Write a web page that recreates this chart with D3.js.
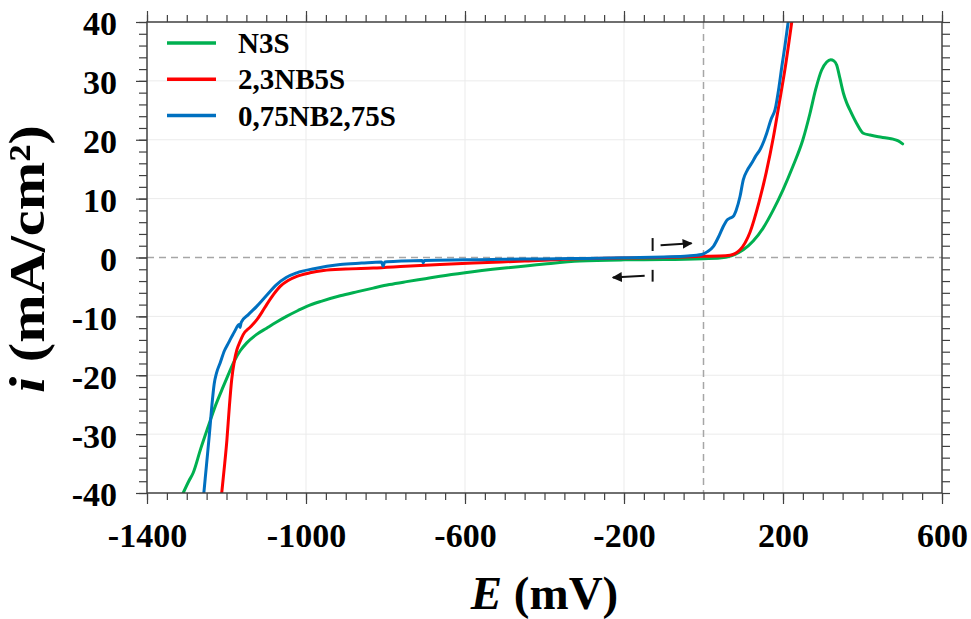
<!DOCTYPE html>
<html><head><meta charset="utf-8">
<script src="https://cdn.jsdelivr.net/npm/d3@7"></script>
<style>body{margin:0;background:#fff;} svg{display:block;font-family:"Liberation Serif","Times New Roman",serif;}</style>
</head><body>
<svg id="c" width="971" height="619"></svg>
<script>
// ---- data ----
const seriesNames = ["N3S", "2,3NB5S", "0,75NB2,75S"];
const seriesColors = ["#00B050", "#FF0000", "#0070C0"];
const xTicks = [-1400, -1000, -600, -200, 200, 600];
const yTicks = [-40, -30, -20, -10, 0, 10, 20, 30, 40];

const n3sE = [-1309,-1295,-1284,-1265,-1246,-1228,-1208,-1193,-1179,-1165,-1149,-1125,-1099,-1075,-1049,-1020,-998,-960,-914,-870,-831,-790,-747,-700,-663,-600,-500,-400,-311,-200,-100,0,41,70,100,125,150,175,200,225,250,268,282,297,310,320,328,335,343,352,360,368,385,402,419,440,461,477,490,501];
const n3sI = [-40,-38,-36.6,-32.5,-28.7,-25.2,-21.9,-19.5,-17.4,-15.8,-14.5,-13.1,-12.0,-11.0,-10.0,-9.0,-8.3,-7.4,-6.5,-5.8,-5.2,-4.6,-4.1,-3.6,-3.2,-2.6,-1.8,-1.1,-0.6,-0.4,-0.35,-0.2,-0.1,0.3,1.3,2.8,5.0,8.0,11.5,15.5,20.0,24.5,28.5,31.8,33.2,33.6,33.4,32.7,30.5,27.9,26.3,25.1,22.8,21.1,20.8,20.5,20.3,20.1,19.8,19.3];

const nb5E = [-1212,-1206,-1199,-1193,-1187,-1180,-1174,-1166,-1158,-1140,-1124,-1110,-1099,-1082,-1065,-1045,-1023,-990,-956,-900,-831,-750,-663,-579,-450,-311,-200,-100,0,40,67,92,117,140,158,176,190,205,222];
const nb5I = [-40,-36,-31,-25.5,-20.8,-17.5,-15.7,-14.3,-13.1,-11.8,-10.6,-9.2,-8.0,-6.3,-4.9,-3.9,-3.2,-2.6,-2.2,-1.95,-1.8,-1.5,-1.2,-0.95,-0.6,-0.2,-0.1,0,0.2,0.25,0.4,1.3,4.3,9.5,14.5,20.5,26,32,40];

const nb275E = [-1257,-1250,-1243,-1237,-1231,-1225,-1216,-1205,-1195,-1180,-1168,-1166,-1163,-1145,-1124,-1100,-1074,-1050,-1023,-980,-914,-860,-810,-806,-802,-760,-708,-705,-702,-600,-500,-400,-300,-200,-100,-40,-5,10,25,40,50,60,67,75,82,92,100,110,121,132,142,152,159,170,180,190,197,205,213];
const nb275I = [-40,-35,-30,-25.3,-21.5,-19.6,-17.9,-15.8,-14.5,-12.6,-11.4,-11.9,-11.0,-9.7,-8.3,-6.5,-4.6,-3.4,-2.6,-1.9,-1.2,-0.95,-0.75,-1.5,-0.75,-0.6,-0.5,-0.9,-0.5,-0.4,-0.3,-0.25,-0.15,-0.05,0.1,0.25,0.5,1.0,1.9,3.8,5.3,6.4,6.7,7.0,8.0,10.4,13.2,14.8,16.0,17.3,18.3,19.8,21.1,23.5,25.1,29,32.4,36,40];

// ---- layout ----
const svg = d3.select("#c");
const L = 147, T = 22, W = 795, H = 471;
const x = d3.scaleLinear().domain([-1400, 600]).range([L, L + W]);
const y = d3.scaleLinear().domain([-40, 40]).range([T + H, T]);
const fmt = d => String(d);

// grid
const g = svg.append("g");
g.selectAll(".gx").data([-1000, -600, -200, 200]).join("line")
  .attr("x1", d => x(d)).attr("x2", d => x(d)).attr("y1", T).attr("y2", T + H)
  .attr("stroke", "#ebebeb").attr("stroke-width", 1);
g.selectAll(".gy").data([-30, -20, -10, 10, 20, 30]).join("line")
  .attr("y1", d => y(d)).attr("y2", d => y(d)).attr("x1", L).attr("x2", L + W)
  .attr("stroke", "#ebebeb").attr("stroke-width", 1);
// dashed zero lines
g.append("line").attr("x1", x(0)).attr("x2", x(0)).attr("y1", T).attr("y2", T + H)
  .attr("stroke", "#a6a6a6").attr("stroke-width", 1.5).attr("stroke-dasharray", "7,5");
g.append("line").attr("y1", y(0)).attr("y2", y(0)).attr("x1", L).attr("x2", L + W)
  .attr("stroke", "#a6a6a6").attr("stroke-width", 1.5).attr("stroke-dasharray", "7,5");

// curves
svg.append("clipPath").attr("id", "clip").append("rect")
  .attr("x", L).attr("y", T).attr("width", W).attr("height", H);
const line = d3.line().x(d => x(d[0])).y(d => y(d[1])).curve(d3.curveMonotoneX);
const series = [d3.zip(n3sE, n3sI), d3.zip(nb5E, nb5I), d3.zip(nb275E, nb275I)];
const cg = svg.append("g").attr("clip-path", "url(#clip)");
series.forEach((s, k) => {
  cg.append("path").datum(s).attr("d", line).attr("fill", "none")
    .attr("stroke", seriesColors[k]).attr("stroke-width", 3)
    .attr("stroke-linejoin", "round").attr("stroke-linecap", "round");
});

// axes
const axisCol = "#404040";
function styleAxis(sel) {
  sel.select(".domain").remove();
  sel.selectAll(".tick line").attr("stroke", axisCol).attr("stroke-width", 1.2);
}
const minorX = d3.range(-1400, 601, 50);
const minorY = d3.range(-40, 41, 2);
svg.append("g").attr("transform", `translate(0,${T + H})`).call(d3.axisBottom(x).tickValues(minorX).tickSize(7).tickFormat("")).call(styleAxis);
svg.append("g").attr("transform", `translate(0,${T})`).call(d3.axisTop(x).tickValues(minorX).tickSize(7).tickFormat("")).call(styleAxis);
svg.append("g").attr("transform", `translate(${L},0)`).call(d3.axisLeft(y).tickValues(minorY).tickSize(8).tickFormat("")).call(styleAxis);
svg.append("g").attr("transform", `translate(${L + W},0)`).call(d3.axisRight(y).tickValues(minorY).tickSize(8).tickFormat("")).call(styleAxis);
const xb = svg.append("g").attr("transform", `translate(0,${T + H})`)
  .call(d3.axisBottom(x).tickValues(xTicks).tickSize(11).tickPadding(19).tickFormat(fmt)).call(styleAxis);
xb.selectAll("text").attr("font-size", 34).attr("font-weight", "bold").attr("fill", "#000")
  .attr("font-family", "Liberation Serif");
svg.append("g").attr("transform", `translate(0,${T})`)
  .call(d3.axisTop(x).tickValues(xTicks).tickSize(11).tickFormat("")).call(styleAxis);
const yl = svg.append("g").attr("transform", `translate(${L},0)`)
  .call(d3.axisLeft(y).tickValues(yTicks).tickSize(11).tickPadding(19).tickFormat(fmt)).call(styleAxis);
yl.selectAll("text").attr("font-size", 34).attr("font-weight", "bold").attr("fill", "#000")
  .attr("font-family", "Liberation Serif").attr("dy", "0.38em");
// frame
svg.append("rect").attr("x", L).attr("y", T).attr("width", W).attr("height", H)
  .attr("fill", "none").attr("stroke", axisCol).attr("stroke-width", 1.5);

// axis titles
const xt = svg.append("text").attr("x", L + W / 2).attr("y", 609).attr("text-anchor", "middle")
  .attr("font-size", 47).attr("font-weight", "bold").attr("fill", "#000");
xt.append("tspan").attr("font-style", "italic").text("E");
xt.append("tspan").text(" (mV)");
const yt = svg.append("text").attr("transform", `translate(44,259) rotate(-90)`)
  .attr("text-anchor", "middle").attr("font-size", 50).attr("font-weight", "bold").attr("fill", "#000")
  .attr("textLength", 268).attr("lengthAdjust", "spacingAndGlyphs");
yt.append("tspan").attr("font-style", "italic").text("i");
yt.append("tspan").text(" (mA/cm²)");

// legend
const lg = svg.append("g");
seriesNames.forEach((n, k) => {
  const yy = 43 + k * 36.3;
  lg.append("line").attr("x1", 167).attr("x2", 216).attr("y1", yy).attr("y2", yy)
    .attr("stroke", seriesColors[k]).attr("stroke-width", 3.5);
  lg.append("text").attr("x", 238).attr("y", yy + 10).attr("font-size", 29).attr("font-weight", "bold")
    .attr("fill", "#000").text(n);
});

// scan direction markers
svg.append("defs").append("marker").attr("id", "ah").attr("viewBox", "0 0 10 10")
  .attr("refX", 9).attr("refY", 5).attr("markerWidth", 5).attr("markerHeight", 5)
  .attr("orient", "auto").attr("markerUnits", "strokeWidth")
  .append("path").attr("d", "M0,0 L10,5 L0,10 z").attr("fill", "#111");
const ann = svg.append("g").attr("stroke", "#111").attr("stroke-width", 2);
ann.append("line").attr("x1", x(-128)).attr("x2", x(-128)).attr("y1", y(3.3)).attr("y2", y(1.1));
ann.append("line").attr("x1", x(-108)).attr("x2", x(-30)).attr("y1", y(2.1)).attr("y2", y(2.4)).attr("marker-end", "url(#ah)");
ann.append("line").attr("x1", x(-128)).attr("x2", x(-128)).attr("y1", y(-2.1)).attr("y2", y(-4.1));
ann.append("line").attr("x1", x(-148)).attr("x2", x(-228)).attr("y1", y(-3.1)).attr("y2", y(-3.4)).attr("marker-end", "url(#ah)");
</script>
</body></html>
